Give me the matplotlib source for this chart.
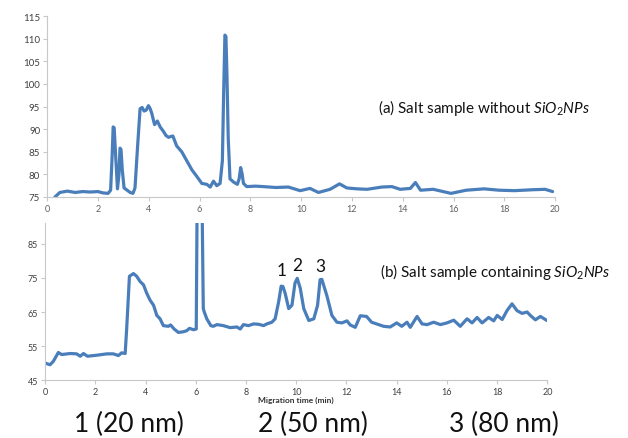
import numpy as np
import matplotlib.pyplot as plt

plt.rcParams['font.family'] = ['Lato', 'DejaVu Sans']
plt.rcParams['mathtext.fontset'] = 'custom'
plt.rcParams['mathtext.rm'] = 'Lato'
plt.rcParams['mathtext.it'] = 'Lato:italic'

# (a) salt sample without SiO2 NPs
time_a = [0.31, 0.5, 0.8, 1.1, 1.4, 1.7, 2.0, 2.2, 2.4, 2.5, 2.56, 2.6, 2.64, 2.7, 2.77, 2.83, 2.87, 2.91,
          2.96, 3.03, 3.15, 3.27, 3.38, 3.46, 3.56, 3.66, 3.74, 3.82, 3.9, 3.99, 4.06, 4.12,
          4.23, 4.34, 4.45, 4.58, 4.68, 4.78, 4.95, 5.1, 5.3, 5.5, 5.7, 5.9, 6.09, 6.29,
          6.42, 6.55, 6.68, 6.81, 6.9, 6.95, 7.0, 7.04, 7.08, 7.13, 7.2, 7.34, 7.49, 7.56, 7.62,
          7.68, 7.73, 7.86, 8.2, 8.5, 9.0, 9.5, 9.96, 10.35, 10.68, 11.14, 11.51, 11.8,
          12.2, 12.6, 13.18, 13.57, 13.9, 14.3, 14.5, 14.7, 15.2, 15.9, 16.5, 17.2, 17.8,
          18.4, 19.1, 19.6, 19.9]
signal_a = [75.0, 76.0, 76.3, 76.0, 76.2, 76.1, 76.2, 75.9, 75.8, 76.5, 84.0, 90.5, 90.3, 84.0, 76.8, 80.0, 85.8, 85.5,
            81.0, 77.0, 76.5, 76.0, 75.8, 77.0, 86.0, 94.5, 94.8, 94.0, 94.2, 95.2, 94.5, 93.5,
            91.0, 91.8, 90.5, 89.5, 88.6, 88.2, 88.5, 86.3, 85.0, 83.0, 81.0, 79.5, 78.0, 77.8,
            77.2, 78.5, 77.5, 78.0, 83.0, 98.0, 110.8, 110.5, 102.0, 88.0, 79.0, 78.3, 77.8, 79.0, 81.5,
            80.0, 78.0, 77.3, 77.4, 77.3, 77.1, 77.2, 76.4, 76.9, 76.0, 76.7, 77.9, 77.0,
            76.8, 76.7, 77.2, 77.3, 76.7, 76.9, 78.2, 76.5, 76.7, 75.8, 76.5, 76.8, 76.5,
            76.4, 76.6, 76.7, 76.2]

# (b) salt sample containing SiO2 NPs
time_b = [0.0, 0.2, 0.33, 0.53, 0.66, 1.0, 1.26, 1.4, 1.53, 1.69, 2.06, 2.46, 2.72, 2.92, 3.05,
          3.19, 3.25, 3.36, 3.52, 3.65, 3.78, 3.92, 4.05, 4.18, 4.32, 4.45, 4.58, 4.71, 4.91,
          5.0, 5.14, 5.31, 5.51, 5.64, 5.75, 5.91, 6.02, 6.05, 6.15, 6.26, 6.3, 6.34, 6.44,
          6.6, 6.7, 6.84, 7.1, 7.37, 7.64, 7.77, 7.9, 8.1, 8.3, 8.5, 8.7, 8.83, 9.03, 9.16,
          9.3, 9.4, 9.47, 9.56, 9.7, 9.83, 9.95, 10.04, 10.16, 10.3, 10.5, 10.7, 10.85, 10.95, 11.02, 11.22,
          11.42, 11.62, 11.82, 12.02, 12.15, 12.35, 12.55, 12.8, 13.0, 13.2, 13.48, 13.74,
          14.0, 14.2, 14.41, 14.54, 14.81, 15.01, 15.21, 15.47, 15.74, 16.0, 16.27, 16.53,
          16.8, 17.0, 17.2, 17.4, 17.66, 17.86, 18.0, 18.2, 18.39, 18.59, 18.79, 18.99,
          19.19, 19.32, 19.52, 19.72, 19.98]
signal_b = [50.0, 49.5, 50.5, 53.1, 52.5, 52.8, 52.7, 52.0, 52.8, 52.0, 52.3, 52.7, 52.7, 52.2, 53.0,
            52.8, 60.0, 75.5, 76.3, 75.5, 74.0, 73.0, 70.5, 68.5, 67.0, 64.0, 63.0, 61.0, 60.8,
            61.2, 60.0, 59.0, 59.2, 59.5, 60.2, 59.8, 60.0, 92.0, 250.0, 92.0, 66.0, 65.0, 63.0,
            61.0, 60.8, 61.3, 61.0, 60.4, 60.6, 60.0, 61.3, 61.0, 61.5, 61.4, 61.0, 61.5, 62.0, 63.0,
            68.0, 72.6, 72.5, 70.5, 66.0, 67.0, 73.5, 74.9, 72.0, 66.0, 62.5, 63.0, 67.0, 74.5, 74.6, 69.8,
            64.0, 62.0, 61.8, 62.4, 61.2, 60.5, 63.9, 63.7, 62.0, 61.5, 60.8, 60.6,
            61.8, 60.8, 62.0, 60.5, 63.7, 61.5, 61.3, 62.0, 61.3, 61.8, 62.6, 60.8,
            63.0, 61.8, 63.4, 61.8, 63.4, 62.4, 64.0, 62.8, 65.4, 67.4, 65.4, 64.6,
            65.0, 64.0, 62.7, 63.7, 62.5]

peak_labels = ['1', '2', '3']
peak_x = [9.4, 10.04, 10.96]
peak_y = [77.4, 78.8, 78.5]

size_labels = ['1 (20 nm)', '2 (50 nm)', '3 (80 nm)']

line_color = '#4a7ebb'
axis_color = '#c8c8c8'
tick_color = '#404040'

fig = plt.figure(figsize=(6.28, 4.39), dpi=100)

def style_axes(ax, fs):
    for s in ['top', 'right']:
        ax.spines[s].set_visible(False)
    for s in ['left', 'bottom']:
        ax.spines[s].set_color(axis_color)
        ax.spines[s].set_linewidth(0.8)
    ax.tick_params(direction='out', length=3, width=0.8, color=axis_color,
                   labelcolor=tick_color, labelsize=fs, pad=2)
    ax.set_xlim(0, 20)
    ax.set_xticks(np.arange(0, 21, 2))

ax1 = fig.add_axes([0.075, 0.549, 0.809, 0.412])
ax1.plot(time_a, signal_a, color=line_color, lw=2.3, solid_joinstyle='round', solid_capstyle='round')
style_axes(ax1, 7)
ax1.set_ylim(75, 115)
ax1.set_yticks(np.arange(75, 116, 5))
ax1.set_xticklabels([str(v) for v in range(0, 21, 2)], fontsize=6.5, color='#606060')

ax2 = fig.add_axes([0.0717, 0.132, 0.8, 0.358])
ax2.plot(time_b, signal_b, color=line_color, lw=2.3, solid_joinstyle='round', solid_capstyle='round')
style_axes(ax2, 6.5)
ax2.set_ylim(45, 91.2)
ax2.set_yticks([45, 55, 65, 75, 85])
for lab, x, y in zip(peak_labels, peak_x, peak_y):
    ax2.text(x, y, lab, ha='center', va='center', fontsize=12.5, color='#111111')

fig.text(378 / 628, 1 - 108 / 439, r'(a) Salt sample without $\mathit{SiO_2NPs}$',
         ha='left', va='center', fontsize=11, color='#111111')
fig.text(380 / 628, 1 - 272 / 439, r'(b) Salt sample containing $\mathit{SiO_2NPs}$',
         ha='left', va='center', fontsize=11, color='#111111')
fig.text(296 / 628, 1 - 400 / 439, 'Migration time (min)', ha='center', va='center',
         fontsize=6, fontweight='bold', color='#333333')

for lab, cx in zip(size_labels, [129, 313, 504]):
    fig.text(cx / 628, 1 - 424 / 439, lab, ha='center', va='center', fontsize=19, color='#111111')

fig.savefig('out.png', dpi=100)
